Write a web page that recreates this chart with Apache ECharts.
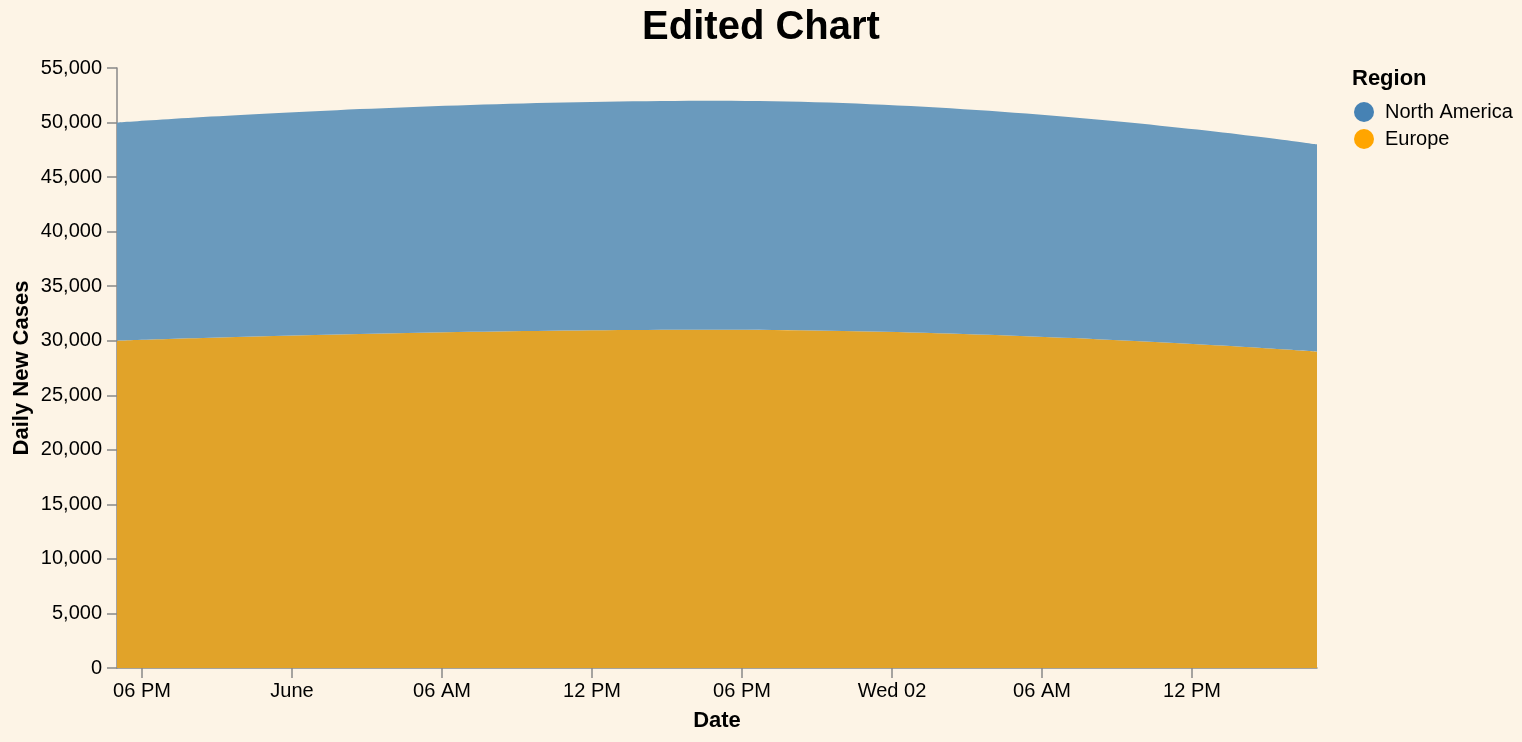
<!DOCTYPE html>
<html>
<head>
<meta charset="utf-8">
<title>Edited Chart</title>
<script src="https://cdn.jsdelivr.net/npm/echarts@6/dist/echarts.min.js"></script>
<style>
  html, body { margin: 0; padding: 0; background: #fdf4e6; }
  #chart { width: 1522px; height: 742px; }
</style>
</head>
<body>
<div id="chart"></div>
<script>
// daily points (local time)
const dates = ["2021-05-31T17:00:00", "2021-06-01T17:00:00", "2021-06-02T17:00:00"];
const europe = [30000, 31000, 29000];
const northAmerica = [20000, 21000, 19000];
const regions = ["North America", "Europe"];

// x tick positions, every 6 hours
const dateTicks = [
  "2021-05-31T18:00:00", "2021-06-01T00:00:00", "2021-06-01T06:00:00",
  "2021-06-01T12:00:00", "2021-06-01T18:00:00", "2021-06-02T00:00:00",
  "2021-06-02T06:00:00", "2021-06-02T12:00:00"
];

const FONT = "'Liberation Sans', Arial, Helvetica, sans-serif";
const months = ["January", "February", "March", "April", "May", "June", "July",
  "August", "September", "October", "November", "December"];
const days = ["Sun", "Mon", "Tue", "Wed", "Thu", "Fri", "Sat"];
const pad = (n) => (n < 10 ? "0" + n : "" + n);

function timeLabel(value) {
  const d = new Date(value);
  const h = d.getHours();
  if (h === 0 && d.getDate() === 1) return months[d.getMonth()];
  if (h === 0) return days[d.getDay()] + " " + pad(d.getDate());
  const h12 = h % 12 === 0 ? 12 : h % 12;
  return pad(h12) + (h < 12 ? " AM" : " PM");
}

const ts = dates.map((s) => +new Date(s));
const tickTs = dateTicks.map((s) => +new Date(s));

// cases column first so the stack is applied on y (x axis is numeric here)
const rows = (vals) => vals.map((v, i) => [v, ts[i]]);

const axisColor = "#888";

const chart = echarts.init(document.getElementById("chart"));
chart.setOption({
  backgroundColor: "#fdf4e6",
  animation: false,
  textStyle: { fontFamily: FONT },
  title: [
    {
      text: "Edited Chart",
      left: "center",
      top: 8,
      padding: 0,
      textStyle: { fontSize: 40, fontWeight: "bold", color: "#000", fontFamily: FONT },
    },
    {
      text: "Region",
      left: 1352,
      top: 68,
      padding: 0,
      textStyle: { fontSize: 22, fontWeight: "bold", color: "#000", fontFamily: FONT },
    },
  ],
  legend: {
    data: regions,
    orient: "vertical",
    left: 1354,
    top: 102,
    padding: 0,
    itemGap: 7,
    itemWidth: 20,
    itemHeight: 20,
    icon: "circle",
    textStyle: { fontSize: 20, color: "#000", fontFamily: FONT, padding: [0, 0, 0, 6] },
  },
  grid: {
    left: 117,
    right: 205,
    top: 68,
    bottom: 74,
    containLabel: false,
    outerBoundsMode: "none",
  },
  xAxis: {
    type: "value",
    min: ts[0],
    max: ts[ts.length - 1],
    name: "Date",
    nameLocation: "middle",
    nameGap: 42,
    nameMoveOverlap: false,
    nameTextStyle: { fontSize: 22, fontWeight: "bold", color: "#000", fontFamily: FONT, verticalAlign: "top" },
    axisLine: { lineStyle: { color: axisColor, width: 1.5 } },
    axisTick: { length: 10, lineStyle: { color: axisColor, width: 1.5 }, customValues: tickTs },
    axisLabel: {
      customValues: tickTs,
      fontSize: 20,
      color: "#000",
      margin: 13,
      hideOverlap: false,
      formatter: timeLabel,
    },
    splitLine: { show: false },
  },
  yAxis: {
    type: "value",
    min: 0,
    max: 55000,
    interval: 5000,
    name: "Daily New Cases",
    nameLocation: "middle",
    nameGap: 84,
    nameMoveOverlap: false,
    nameTextStyle: { fontSize: 22, fontWeight: "bold", color: "#000", fontFamily: FONT },
    axisLine: { show: true, lineStyle: { color: axisColor, width: 1.5 } },
    axisTick: { show: true, length: 10, lineStyle: { color: axisColor, width: 1.5 } },
    axisLabel: {
      fontSize: 20,
      color: "#000",
      margin: 15,
      formatter: (v) => v.toLocaleString("en-US"),
    },
    splitLine: { show: false },
  },
  series: [
    {
      name: "Europe",
      type: "line",
      stack: "cases",
      encode: { x: 1, y: 0 },
      smooth: true,
      showSymbol: false,
      data: rows(europe),
      itemStyle: { color: "#ffa500" },
      lineStyle: { width: 0 },
      areaStyle: { color: "#e1a329", opacity: 1 },
    },
    {
      name: "North America",
      type: "line",
      stack: "cases",
      encode: { x: 1, y: 0 },
      smooth: true,
      showSymbol: false,
      data: rows(northAmerica),
      itemStyle: { color: "#4682b4" },
      lineStyle: { width: 0 },
      areaStyle: { color: "#6a9abd", opacity: 1 },
    },
  ],
});
</script>
</body>
</html>
